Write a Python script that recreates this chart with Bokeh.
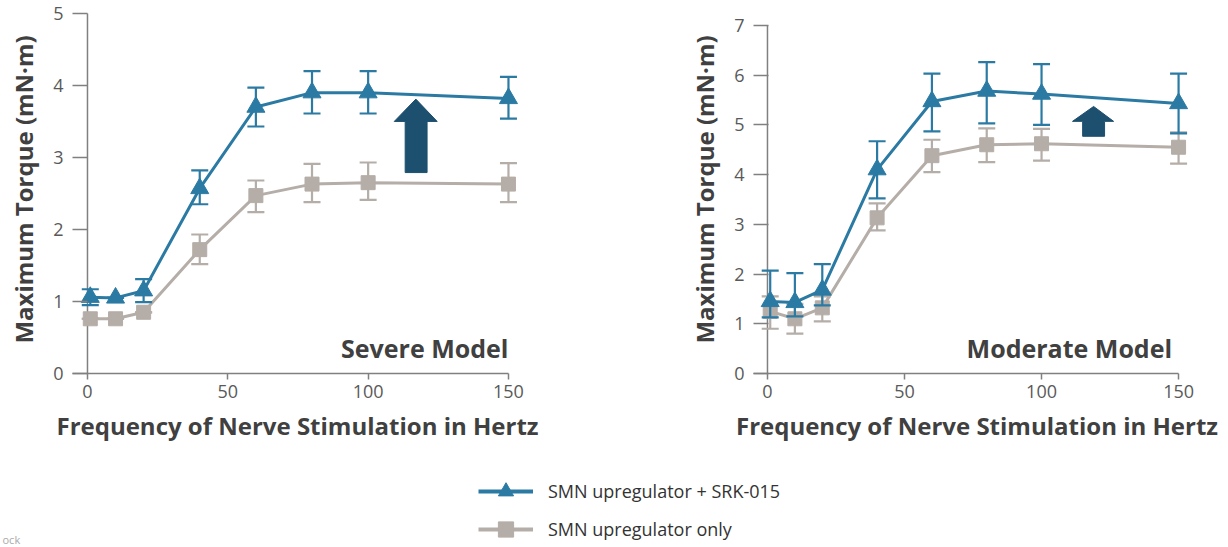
from bokeh.plotting import figure
from bokeh.models import ColumnDataSource, Range1d, FixedTicker, Legend, LegendItem, Label
from bokeh.layouts import column, row
from bokeh.embed import file_html
from bokeh.resources import INLINE

# ---------------- data ----------------
freq = [1, 10, 20, 40, 60, 80, 100, 150]

severe_combo = [1.06, 1.05, 1.15, 2.57, 3.70, 3.90, 3.90, 3.82]
severe_combo_hi = [1.17, 1.05, 1.31, 2.82, 3.97, 4.20, 4.20, 4.12]
severe_combo_lo = [0.95, 1.05, 0.99, 2.35, 3.43, 3.61, 3.61, 3.54]
severe_only = [0.76, 0.76, 0.85, 1.72, 2.47, 2.63, 2.65, 2.63]
severe_only_hi = [0.76, 0.76, 0.85, 1.93, 2.68, 2.91, 2.93, 2.92]
severe_only_lo = [0.76, 0.76, 0.85, 1.52, 2.24, 2.38, 2.41, 2.38]

moderate_combo = [1.45, 1.43, 1.68, 4.10, 5.47, 5.68, 5.62, 5.43]
moderate_combo_hi = [2.07, 2.02, 2.20, 4.67, 6.03, 6.26, 6.22, 6.03]
moderate_combo_lo = [1.13, 1.15, 1.37, 3.52, 4.87, 5.03, 5.00, 4.83]
moderate_only = [1.25, 1.10, 1.32, 3.13, 4.38, 4.60, 4.62, 4.55]
moderate_only_hi = [1.55, 1.40, 1.55, 3.42, 4.70, 4.93, 4.92, 4.85]
moderate_only_lo = [0.90, 0.80, 1.05, 2.88, 4.05, 4.25, 4.28, 4.22]

x_ticks = [0, 50, 100, 150]
severe_y_ticks = [0, 1, 2, 3, 4, 5]
moderate_y_ticks = [0, 1, 2, 3, 4, 5, 6, 7]

series_names = ["SMN upregulator + SRK-015", "SMN upregulator only"]
x_title = "Frequency of Nerve Stimulation in Hertz"
y_title = "Maximum Torque (mN\u00b7m)"

# ---------------- style ----------------
BLUE = "#2b7aa3"
GRAY = "#b5ada7"
ARROW = "#1d4f6e"
AXIS = "#808080"
TICKTXT = "#595959"
TITLETXT = "#404040"
FONT = "Open Sans"


def make_panel(width, ymax_tick, y_ticks, x0, x1, y1, mb_left, mb_right,
               combo, chi, clo, only, ohi, olo, model_label, label_y, arrow):
    p = figure(width=width, height=455, output_backend="svg", toolbar_location=None,
               x_range=Range1d(x0, x1), y_range=Range1d(0, y1),
               min_border_left=mb_left, min_border_right=mb_right,
               min_border_top=5, min_border_bottom=82)
    p.outline_line_color = None
    p.xgrid.visible = False
    p.ygrid.visible = False
    p.background_fill_color = "white"
    p.border_fill_color = "white"

    # x axis
    xa = p.xaxis[0]
    xa.ticker = FixedTicker(ticks=x_ticks)
    xa.bounds = (x0, 150)
    xa.axis_line_color = AXIS
    xa.axis_line_width = 1.5
    xa.major_tick_line_color = AXIS
    xa.major_tick_line_width = 1.5
    xa.major_tick_out = 6
    xa.major_tick_in = 0
    xa.minor_tick_line_color = None
    xa.major_label_standoff = 5
    xa.major_label_text_font = FONT
    xa.major_label_text_font_size = "18px"
    xa.major_label_text_color = TICKTXT
    xa.axis_label = x_title
    xa.axis_label_standoff = 8
    xa.axis_label_text_font = FONT
    xa.axis_label_text_font_style = "bold"
    xa.axis_label_text_font_size = "24px"
    xa.axis_label_text_color = TITLETXT

    # y axis (ticks drawn inward from frame edge, axis line at x = 0)
    ya = p.yaxis[0]
    ya.ticker = FixedTicker(ticks=y_ticks)
    ya.axis_line_color = None
    ya.major_tick_line_color = AXIS
    ya.major_tick_line_width = 1.5
    ya.major_tick_in = 15
    ya.major_tick_out = 0
    ya.minor_tick_line_color = None
    ya.major_label_standoff = 9
    ya.major_label_text_font = FONT
    ya.major_label_text_font_size = "18px"
    ya.major_label_text_color = TICKTXT
    ya.axis_label = y_title
    ya.axis_label_standoff = 10
    ya.axis_label_text_font = FONT
    ya.axis_label_text_font_style = "bold"
    ya.axis_label_text_font_size = "24px"
    ya.axis_label_text_color = TITLETXT
    p.segment(x0=[0], y0=[0], x1=[0], y1=[ymax_tick], line_color=AXIS, line_width=1.5)

    # series: gray first, blue on top
    for vals, hi, lo, color, marker, size in (
            (only, ohi, olo, GRAY, "square", 14),
            (combo, chi, clo, BLUE, "triangle", 18)):
        src = ColumnDataSource(dict(x=freq, y=vals, hi=hi, lo=lo))
        p.segment(x0="x", y0="lo", x1="x", y1="hi", source=src, line_color=color, line_width=2.2)
        p.scatter(x="x", y="hi", source=src, marker="dash", size=17, line_color=color, line_width=2.2)
        p.scatter(x="x", y="lo", source=src, marker="dash", size=17, line_color=color, line_width=2.2)
        p.line(x="x", y="y", source=src, line_color=color, line_width=3)
        p.scatter(x="x", y="y", source=src, marker=marker, size=size,
                  fill_color=color, line_color=color)

    # improvement arrow
    tipx, tipy, hbase, hx0, hx1, sx0, sx1, bot = arrow
    p.patch(x=[tipx, hx1, sx1, sx1, sx0, sx0, hx0],
            y=[tipy, hbase, hbase, bot, bot, hbase, hbase],
            fill_color=ARROW, line_color=ARROW, line_width=1)

    p.add_layout(Label(x=150, y=label_y, text=model_label, text_align="right",
                       text_baseline="alphabetic", text_font=FONT, text_font_style="bold",
                       text_font_size="25px", text_color=TITLETXT))
    return p


p1 = make_panel(614, 5, severe_y_ticks, -5.34, 155.0, 5.11, 72, 92,
                severe_combo, severe_combo_hi, severe_combo_lo,
                severe_only, severe_only_hi, severe_only_lo,
                "Severe Model", 0.36,
                (117, 3.81, 3.50, 109.3, 124.6, 113.2, 121.0, 2.79))

p2 = make_panel(614, 7, moderate_y_ticks, -5.1, 158.0, 7.40, 139, 28,
                moderate_combo, moderate_combo_hi, moderate_combo_lo,
                moderate_only, moderate_only_hi, moderate_only_lo,
                "Moderate  Model", 0.52,
                (119, 5.37, 5.07, 111.3, 126.3, 115.0, 123.0, 4.77))

# ---------------- legend strip ----------------
p3 = figure(width=1228, height=92, output_backend="svg", toolbar_location=None,
            x_range=Range1d(0, 1228), y_range=Range1d(0, 92), min_border=0)
p3.axis.visible = False
p3.xgrid.visible = False
p3.ygrid.visible = False
p3.outline_line_color = None

offscreen = ColumnDataSource(dict(x=[-500], y=[-500]))
lb = p3.line(x="x", y="y", source=offscreen, line_color=BLUE, line_width=4)
mb = p3.scatter(x="x", y="y", source=offscreen, marker="triangle", size=17,
                fill_color=BLUE, line_color=BLUE)
lg = p3.line(x="x", y="y", source=offscreen, line_color=GRAY, line_width=4)
mg = p3.scatter(x="x", y="y", source=offscreen, marker="square", size=14,
                fill_color=GRAY, line_color=GRAY)

legend = Legend(items=[LegendItem(label=series_names[0], renderers=[lb, mb]),
                       LegendItem(label=series_names[1], renderers=[lg, mg])],
                location=(478, -1), orientation="vertical",
                glyph_width=55, glyph_height=38, label_height=38, label_width=10,
                label_standoff=15, spacing=0, padding=0, margin=0,
                border_line_color=None, background_fill_alpha=0,
                label_text_font="Open Sans", label_text_font_size="18px",
                label_text_color="#333333")
p3.add_layout(legend, "center")

p3.add_layout(Label(x=2, y=16, x_units="screen", y_units="screen", text="ock",
                    text_baseline="top", text_font="Open Sans", text_font_size="11px",
                    text_color="#aaaaaa"))

layout = column(row(p1, p2), p3)

open("out.html", "w").write(file_html(layout, INLINE))
